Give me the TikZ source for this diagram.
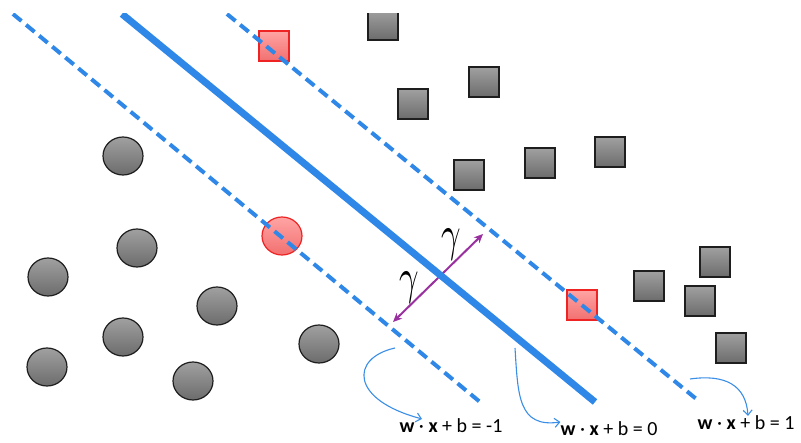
\documentclass[tikz,border=0pt]{standalone}
\usepackage{fontspec}
\setsansfont{Carlito}
\usetikzlibrary{arrows.meta,shapes.geometric}
\definecolor{lineblue}{HTML}{2F88E8}
\definecolor{noteblue}{HTML}{3A8EE6}
\definecolor{marginpurple}{HTML}{9A2FA0}
\definecolor{ptgrayA}{HTML}{A0A0A0}
\definecolor{ptgrayB}{HTML}{6C6C6C}
\definecolor{ptedge}{HTML}{1E1E1E}
\definecolor{svredA}{HTML}{FFA4A4}
\definecolor{svredB}{HTML}{F27070}
\definecolor{svedge}{HTML}{EE2424}
\begin{document}
\begin{tikzpicture}[x=1pt,y=-1pt,
  negpt/.style={ellipse,minimum width=40pt,minimum height=38pt,inner sep=0pt,
    draw=ptedge,line width=1.2pt,top color=ptgrayA,bottom color=ptgrayB},
  pospt/.style={rectangle,minimum size=30pt,inner sep=0pt,
    draw=ptedge,line width=1.2pt,top color=ptgrayA,bottom color=ptgrayB},
  negsv/.style={negpt,draw=svedge,top color=svredA,bottom color=svredB},
  possv/.style={pospt,draw=svedge,top color=svredA,bottom color=svredB},
  margin/.style={lineblue,line width=4pt,dash pattern=on 11pt off 6pt},
  boundary/.style={lineblue,line width=7pt},
  gap/.style={marginpurple,line width=2pt,-{Stealth[length=9pt,width=8pt]}},
  note/.style={noteblue,line width=1.1pt,-{Straight Barb[length=5pt,width=9pt]}},
  eqn/.style={font=\sffamily\fontsize{20}{20}\selectfont,inner sep=0pt,anchor=base},
  gam/.style={inner sep=0pt}]
\useasboundingbox (0,0) rectangle (801,443);

% support vectors (drawn under the margin lines)
\node[negsv] (c9) at (282,236) {};
\node[possv] (s11) at (274,46) {};
\node[possv] (s12) at (582,305) {};

% margin gap arrows
\coordinate (m0) at (438,278);
\coordinate (mlo) at (393,322);
\coordinate (mhi) at (483,234);
\draw[gap] (m0) -- (mlo);
\draw[gap] (m0) -- (mhi);

% hyperplanes
\begin{scope}
\clip (0,14) rectangle (801,443);
\coordinate (nA) at (13,14);   \coordinate (nB) at (480,402);
\coordinate (zA) at (122,14);  \coordinate (zB) at (595,402);
\coordinate (pA) at (227,14);  \coordinate (pB) at (700,402);
\draw[margin] (nA) -- (nB);
\draw[boundary] (zA) -- (zB);
\draw[margin] (pA) -- (pB);
\node[pospt] (s1) at (383,25) {};
\end{scope}

\node[gam] (g1) at (451,245) {\scalebox{3.4}[5.0]{$\gamma$}};
\node[gam] (g2) at (409,288) {\scalebox{3.4}[5.0]{$\gamma$}};

% negative class
\node[negpt] (c1) at (123,156) {};
\node[negpt] (c2) at (137,248) {};
\node[negpt] (c3) at (48,277) {};
\node[negpt] (c4) at (217,306) {};
\node[negpt] (c5) at (123,337) {};
\node[negpt] (c6) at (47,367) {};
\node[negpt] (c7) at (193,381) {};
\node[negpt] (c8) at (319,344) {};

% positive class
\node[pospt] (s2) at (484,82) {};
\node[pospt] (s3) at (413,104) {};
\node[pospt] (s4) at (469,175) {};
\node[pospt] (s5) at (540,163) {};
\node[pospt] (s6) at (610,152) {};
\node[pospt] (s7) at (715,262) {};
\node[pospt] (s8) at (649,286) {};
\node[pospt] (s9) at (700,301) {};
\node[pospt] (s10) at (731,348) {};

% equations
\node[eqn] (e1) at (451,433) {\textbf{w} · \textbf{x} + b = -1};
\node[eqn] (e2) at (609,436) {\textbf{w} · \textbf{x} + b = 0};
\node[eqn] (e3) at (746,430) {\textbf{w} · \textbf{x} + b = 1};

\coordinate (a1) at (395,348);
\coordinate (a2) at (515,348);
\coordinate (a3) at (690,379);
\draw[note] (a1) .. controls (350,358) and (350,400) .. (e1.north west -| 422,420);
\draw[note] (a2) .. controls (518,395) and (518,428) .. (e2.west |- 548,422);
\draw[note] (a3) .. controls (725,374) and (746,385) .. (e3.north -| 748,410);
\end{tikzpicture}
\end{document}
